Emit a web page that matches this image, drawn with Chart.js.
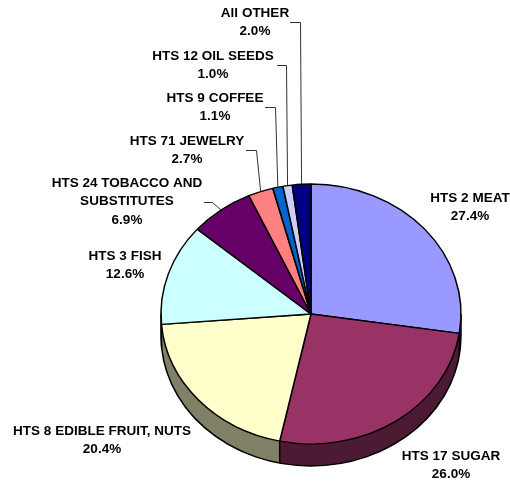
<!DOCTYPE html>
<html>
<head>
<meta charset="utf-8">
<style>
  body { margin: 0; background: #fff; }
</style>
<script src="https://cdn.jsdelivr.net/npm/chart.js@4"></script>
</head>
<body>
<canvas id="myChart" width="510" height="485"></canvas>
<script>
// Data
var categories = ['HTS 2 MEAT', 'HTS 17 SUGAR', 'HTS 8 EDIBLE FRUIT, NUTS', 'HTS 3 FISH', 'HTS 24 TOBACCO AND SUBSTITUTES', 'HTS 71 JEWELRY', 'HTS 9 COFFEE', 'HTS 12 OIL SEEDS', 'All OTHER'];
var shares = [27.4, 26.0, 20.4, 12.6, 6.9, 2.7, 1.1, 1.0, 2.0];

// Colours
var topColors = ['#9999FF', '#993366', '#FFFFCC', '#CCFFFF', '#660066', '#FF8080', '#0066CC', '#CCCCFF', '#000080'];
var sideColors = ['#4D4D80', '#4D1A33', '#808066', '#668080', '#330033', '#804040', '#003366', '#666680', '#000040'];

// Label layout: wrapped lines, centre x, y of first line, line height
var labelLines = [['HTS 2 MEAT'], ['HTS 17 SUGAR'], ['HTS 8 EDIBLE FRUIT, NUTS'], ['HTS 3 FISH'], ['HTS 24 TOBACCO AND', 'SUBSTITUTES'], ['HTS 71 JEWELRY'], ['HTS 9 COFFEE'], ['HTS 12 OIL SEEDS'], ['All OTHER']];
var labelX = [470, 451, 102, 125, 127, 187, 215, 213, 255];
var labelY = [198, 456, 431, 256, 183, 141, 98, 56, 13];
var lineGap = 18.5;

// Leader lines: index of slice, start of the line and its elbow
var leaders = [
  { slice: 4, x0: 204, x1: 212, y: 202 },
  { slice: 5, x0: 246, x1: 256, y: 150 },
  { slice: 6, x0: 265, x1: 275, y: 107 },
  { slice: 7, x0: 277, x1: 286, y: 65 },
  { slice: 8, x0: 290, x1: 300, y: 22 }
];

var squash = 130 / 150; // pie is tilted, so the circle becomes an ellipse
var depth = 22;

// Draws the thickness of the pie under the top face
var sidePlugin = {
  id: 'side',
  beforeDatasetsDraw: function(chart) {
    var ctx = chart.ctx;
    var arcs = chart.getDatasetMeta(0).data;
    var cx = arcs[0].x, cy = arcs[0].y, r = arcs[0].outerRadius;

    // only the front half of the rim can be seen
    arcs.forEach(function(arc, i) {
      var a0 = Math.max(arc.startAngle, 0);
      var a1 = Math.min(arc.endAngle, Math.PI);
      if (a0 >= a1) return;
      ctx.fillStyle = sideColors[i];
      ctx.beginPath();
      ctx.ellipse(cx, cy + depth, r, r * squash, 0, a0, a1);
      ctx.ellipse(cx, cy, r, r * squash, 0, a1, a0, true);
      ctx.closePath();
      ctx.fill();
    });

    ctx.strokeStyle = '#000';
    ctx.lineWidth = 1.5;
    ctx.beginPath();
    ctx.ellipse(cx, cy + depth, r, r * squash, 0, 0, Math.PI);
    ctx.stroke();

    arcs.forEach(function(arc) {
      var a = arc.endAngle;
      if (a > 0 && a < Math.PI) {
        var x = cx + r * Math.cos(a);
        var y = cy + r * squash * Math.sin(a);
        ctx.beginPath();
        ctx.moveTo(x, y);
        ctx.lineTo(x, y + depth);
        ctx.stroke();
      }
    });

    // left and right edges of the rim
    ctx.beginPath();
    ctx.moveTo(cx - r, cy);
    ctx.lineTo(cx - r, cy + depth);
    ctx.moveTo(cx + r, cy);
    ctx.lineTo(cx + r, cy + depth);
    ctx.stroke();

    // squash the top face, the library draws it right after this
    ctx.save();
    ctx.translate(cx, cy);
    ctx.scale(1, squash);
    ctx.translate(-cx, -cy);
  },
  afterDatasetsDraw: function(chart) {
    chart.ctx.restore();
  }
};

// Text labels and leader lines
var labelPlugin = {
  id: 'sliceLabels',
  afterDraw: function(chart) {
    var ctx = chart.ctx;
    var arcs = chart.getDatasetMeta(0).data;

    ctx.save();
    ctx.strokeStyle = '#333';
    ctx.lineWidth = 1;
    leaders.forEach(function(l) {
      var arc = arcs[l.slice];
      var mid = (arc.startAngle + arc.endAngle) / 2;
      ctx.beginPath();
      ctx.moveTo(l.x0, l.y + 0.5);
      ctx.lineTo(l.x1 + 0.5, l.y + 0.5);
      ctx.lineTo(arc.x + arc.outerRadius * Math.cos(mid), arc.y + arc.outerRadius * squash * Math.sin(mid));
      ctx.stroke();
    });

    ctx.fillStyle = '#000';
    ctx.font = 'bold 13.5px "Liberation Sans"';
    ctx.textAlign = 'center';
    ctx.textBaseline = 'middle';
    labelLines.forEach(function(lines, i) {
      var all = lines.concat(shares[i].toFixed(1) + '%');
      all.forEach(function(t, n) {
        ctx.fillText(t, labelX[i], labelY[i] + n * lineGap);
      });
    });
    ctx.restore();
  }
};

new Chart(document.getElementById('myChart').getContext('2d'), {
  type: 'pie',
  data: {
    labels: categories,
    datasets: [{
      data: shares,
      backgroundColor: topColors,
      borderColor: '#000',
      borderWidth: 1.5
    }]
  },
  options: {
    responsive: false,
    animation: false,
    radius: 150,
    layout: { padding: { left: 112, top: 143 } },
    plugins: {
      legend: { display: false },
      tooltip: { enabled: false }
    }
  },
  plugins: [sidePlugin, labelPlugin]
});
</script>
</body>
</html>
